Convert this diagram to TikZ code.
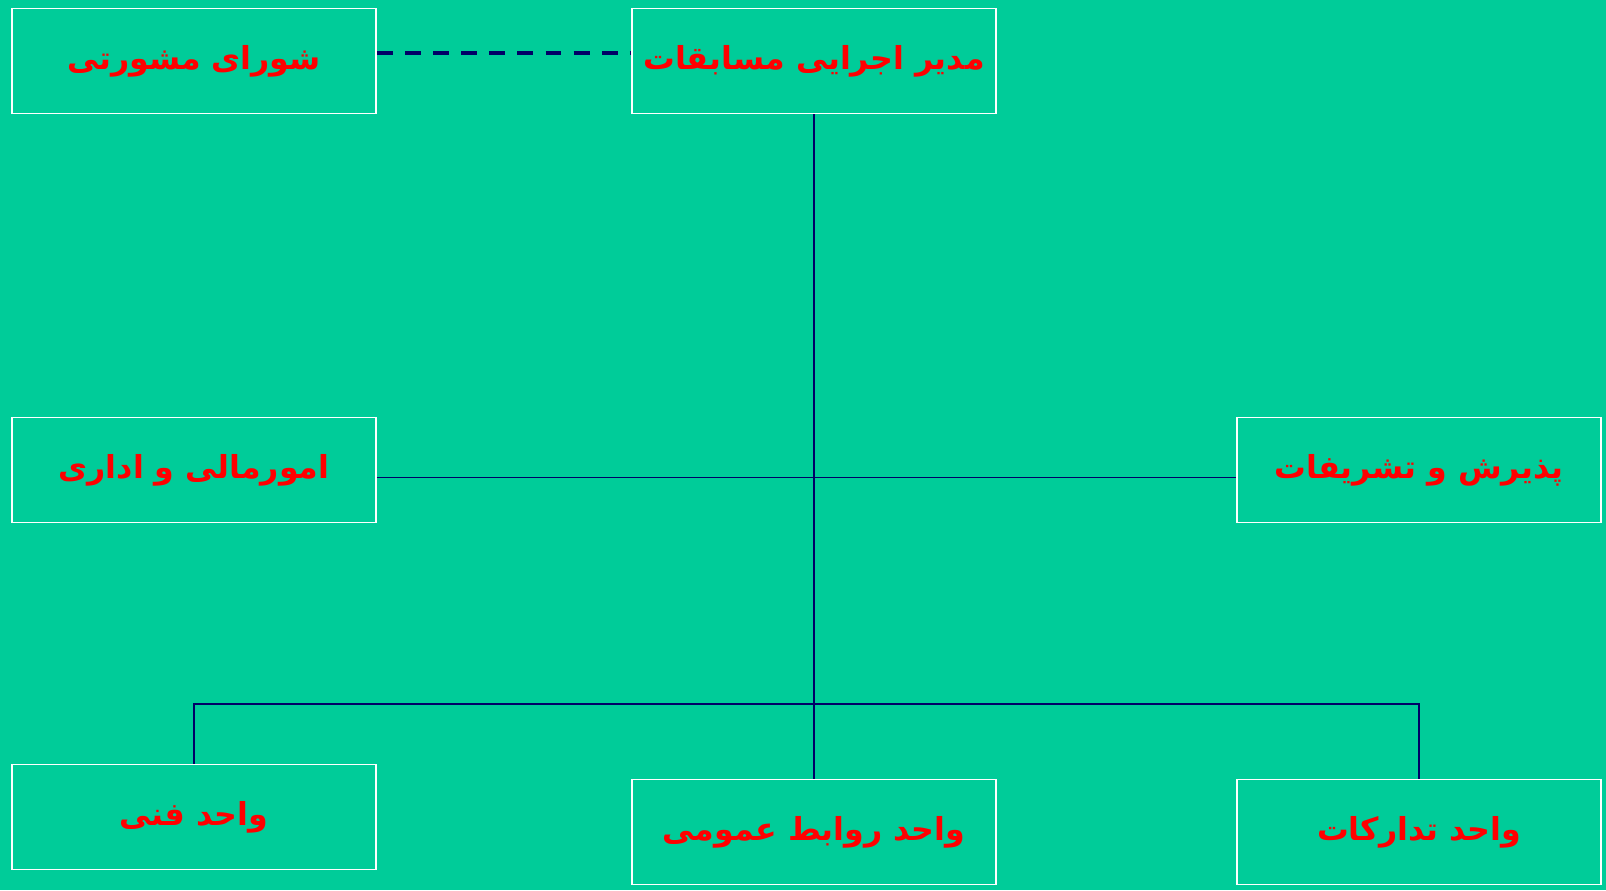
\documentclass[tikz,border=0pt]{standalone}
\usepackage{fontspec}
\usepackage{tikz}
\TeXXeTstate=1
\newfontfamily\arabicfont[Script=Arabic]{DejaVu Sans}
\definecolor{bgteal}{HTML}{00CC99}
\definecolor{navyline}{HTML}{000066}
\definecolor{labelred}{HTML}{FF0000}

\begin{document}
\begin{tikzpicture}[x=0.02cm, y=-0.02cm,
    unitbox/.style={draw=white, line width=1.1pt, minimum width=7.28cm,
      minimum height=2.1cm, inner sep=0pt, text=labelred,
      font=\arabicfont\bfseries\fontsize{18}{21}\selectfont},
    link/.style={navyline, line width=0.9pt},
    dashlink/.style={navyline, line width=2.2pt, dash pattern=on 9pt off 7pt}]
  \fill[bgteal] (0,0) rectangle (1606,890);
  \useasboundingbox (0,0) rectangle (1606,890);
  \node[unitbox] (advisory)  at (194,61)   {\beginR شورای مشورتی\endR};
  \node[unitbox] (director)  at (814,61)   {\beginR مدیر اجرایی مسابقات\endR};
  \node[unitbox] (finance)   at (194,470)  {\beginR امورمالی و اداری\endR};
  \node[unitbox] (reception) at (1419,470) {\beginR پذیرش و تشریفات\endR};
  \node[unitbox] (technical) at (194,817)  {\beginR واحد فنی\endR};
  \node[unitbox] (publicrel) at (814,832)  {\beginR واحد روابط عمومی\endR};
  \node[unitbox] (supply)    at (1419,832) {\beginR واحد تدارکات\endR};
  \coordinate (busleft) at (194,704);
  \draw[dashlink] ([yshift=0.16cm]advisory.east) -- ([yshift=0.16cm]director.west);
  \draw[link] (director.south) -- (publicrel.north);
  \draw[link] ([yshift=-0.15cm]finance.east) -- ([yshift=-0.15cm]reception.west);
  \draw[link, line width=1.4pt] (technical.north) -- (busleft) -| (supply.north);
\end{tikzpicture}
\end{document}
